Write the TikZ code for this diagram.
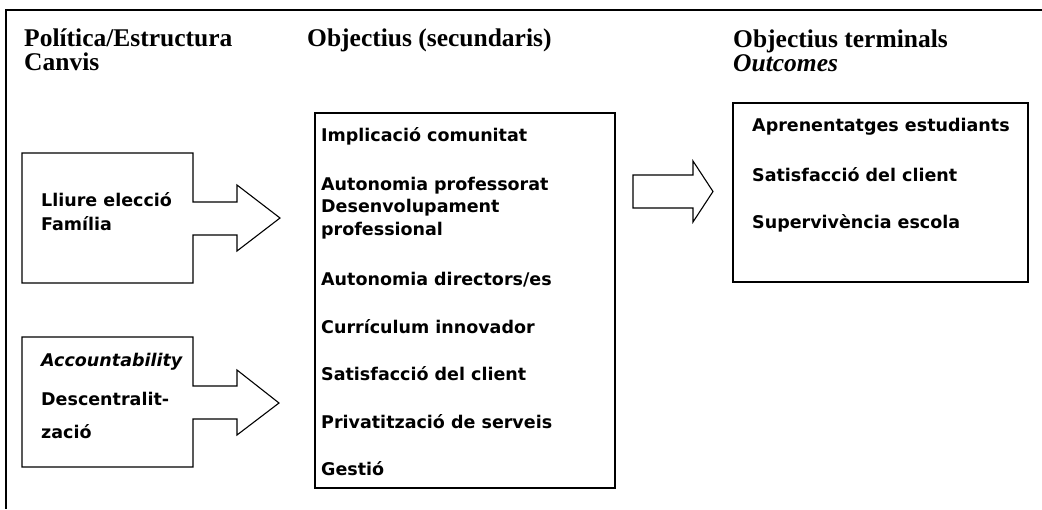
\documentclass[tikz,border=0pt]{standalone}
\usepackage{fontspec}
\setmainfont{Liberation Serif}
\newfontfamily\vsans{DejaVu Sans}
\begin{document}
\begin{tikzpicture}[x=1pt,y=-1pt,
  head/.style={anchor=base west,inner sep=0pt,font=\fontsize{25.5}{29}\selectfont\bfseries},
  item/.style={anchor=base west,inner sep=0pt,font=\vsans\fontsize{17.5}{20}\selectfont\bfseries},
  outline/.style={draw,line width=1.1pt,line join=miter}]
\useasboundingbox (0,0) rectangle (1042,509);
% frame
\draw[line width=2pt] (1042,10) -- (6,10) -- (6,509);
% headers
\node[head] (h1a) at (24,46.5) {Política/Estructura};
\node[head] (h1b) at (24,70) {Canvis};
\node[head] (h2) at (307,46.5) {Objectius (secundaris)};
\node[head] (h3a) at (733,47.5) {Objectius terminals};
\node[head,font=\fontsize{25.5}{29}\selectfont\bfseries\itshape] (h3b) at (733,71.5) {Outcomes};
% left box 1 with arrow
\draw[outline] (22,153) -- (193,153) -- (193,202) -- (237,202) -- (237,185) -- (280,218)
  -- (237,251) -- (237,235) -- (193,235) -- (193,283) -- (22,283) -- cycle;
\node[item] (l1a) at (41,206.5) {Lliure elecció};
\node[item] (l1b) at (41,230) {Família};
% left box 2 with arrow
\draw[outline] (22,337) -- (193,337) -- (193,386) -- (237,386) -- (237,370) -- (279,403)
  -- (237,435) -- (237,419) -- (193,419) -- (193,467) -- (22,467) -- cycle;
\node[item,font=\vsans\fontsize{17.5}{20}\selectfont\bfseries\itshape] (l2a) at (41,366.5) {Accountability};
\node[item] (l2b) at (41,405) {Descentralit-};
\node[item] (l2c) at (41,438) {zació};
% middle box
\draw[outline] (315,113) rectangle (615,488);
\node[item] (m1) at (321,141.5) {Implicació comunitat};
\node[item] (m2a) at (321,190) {Autonomia professorat};
\node[item] (m2b) at (321,212) {Desenvolupament};
\node[item] (m2c) at (321,235) {professional};
\node[item] (m3) at (321,285) {Autonomia directors/es};
\node[item] (m4) at (321,333) {Currículum innovador};
\node[item] (m5) at (321,380) {Satisfacció del client};
\node[item] (m6) at (321,428) {Privatització de serveis};
\node[item] (m7) at (321,475) {Gestió};
% middle arrow
\draw[outline] (633,175) -- (693,175) -- (693,161) -- (713,191.5) -- (693,222) -- (693,208) -- (633,208) -- cycle;
% right box
\draw[outline] (733,103) rectangle (1028,282);
\node[item] (r1) at (752,131.5) {Aprenentatges estudiants};
\node[item] (r2) at (752,181.5) {Satisfacció del client};
\node[item] (r3) at (752,228) {Supervivència escola};
\end{tikzpicture}
\end{document}
